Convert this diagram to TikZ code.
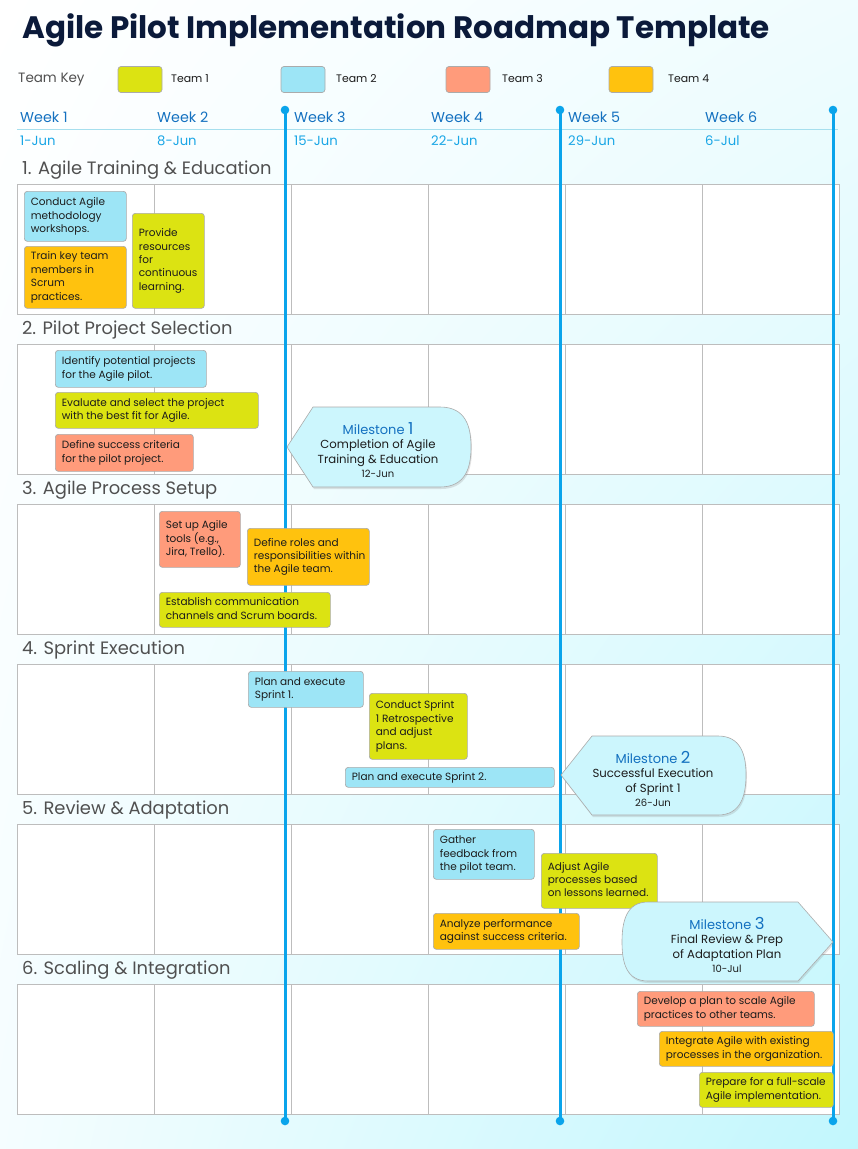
\documentclass[tikz,border=0pt]{standalone}
\usepackage{fontspec}
\setmainfont{Poppins}
\usetikzlibrary{shadows,shadings}
\definecolor{tone}{HTML}{DCE312}
\definecolor{ttwo}{HTML}{9DE5F6}
\definecolor{tthree}{HTML}{FF9B7B}
\definecolor{tfour}{HTML}{FFC20E}
\definecolor{mscyan}{HTML}{CCF6FD}
\definecolor{vline}{HTML}{0AA4EB}
\definecolor{wkblue}{HTML}{1471C0}
\definecolor{dtblue}{HTML}{19A6E6}
\definecolor{navy}{HTML}{0B1A3A}
\definecolor{gridgray}{HTML}{BDBDBD}
\definecolor{boxedge}{HTML}{ABABAB}
\definecolor{txtdark}{HTML}{1C1C1C}
\definecolor{secgray}{HTML}{505050}
\definecolor{hdrline}{HTML}{A6DFEE}
\tikzset{
  taskst/.style={draw=boxedge, line width=0.7pt, rounded corners=3pt, anchor=north west,
    inner xsep=6.5pt, inner ysep=1pt, text=txtdark, font=\fontsize{10.5}{13.4}\selectfont},
  swatch/.style={draw=boxedge, line width=0.7pt, rounded corners=3pt, minimum width=44pt, minimum height=26pt, inner sep=0pt},
  keylbl/.style={anchor=west, font=\fontsize{10.9}{12}\selectfont, text=txtdark},
  wklbl/.style={anchor=west, font=\fontsize{14.3}{16}\selectfont, text=wkblue},
  dtlbl/.style={anchor=west, font=\fontsize{13.2}{15}\selectfont, text=dtblue},
  seclbl/.style={anchor=west, font=\fontsize{17.9}{21}\selectfont, text=secgray},
  msshape/.style={draw=boxedge, line width=0.6pt, fill=mscyan, drop shadow={shadow xshift=1pt, shadow yshift=-2pt, opacity=0.22}},
  mstext/.style={align=center, text=txtdark, font=\fontsize{11.7}{14.3}\selectfont, inner sep=0pt},
  vmile/.style={draw=vline, line width=3pt},
  vdot/.style={fill=vline},
}
\newcommand\taskbox[7]{%
  \pgfmathsetmacro\tbw{#5-#3}\pgfmathsetmacro\tbh{#6-#4}\pgfmathsetmacro\tbt{#5-#3-13}%
  \node[taskst, fill=#2, minimum width=\tbw pt, minimum height=\tbh pt] (#1) at (#3,#4)
    {\makebox[\tbt pt][l]{\begin{tabular}{@{}l@{}}#7\end{tabular}}};}
\begin{document}
\begin{tikzpicture}[x=1pt, y=-1pt]
\useasboundingbox (0,0) rectangle (858,1149);
% background
\shade[upper left=white, upper right=white!70!mscyan, lower left=white!80!mscyan, lower right=mscyan!95!cyan] (0,0) rectangle (858,1149);
% title
\node[anchor=west, font=\fontsize{31}{36}\selectfont\bfseries, text=navy, inner sep=0pt] (title) at (22,30) {Agile Pilot Implementation Roadmap Template};
% team key
\node[anchor=west, font=\fontsize{13.5}{15}\selectfont, text=secgray, inner sep=0pt] (tk) at (18,80) {Team Key};
\node[swatch, fill=tone] (k1) at (140,79.5) {};
\node[keylbl, inner sep=0pt] (l1) at (171,79) {Team 1};
\node[swatch, fill=ttwo] (k2) at (303,79.5) {};
\node[keylbl, inner sep=0pt] (l2) at (336,79) {Team 2};
\node[swatch, fill=tthree] (k3) at (468,79.5) {};
\node[keylbl, inner sep=0pt] (l3) at (502,79) {Team 3};
\node[swatch, fill=tfour] (k4) at (631,79.5) {};
\node[keylbl, inner sep=0pt] (l4) at (668,79) {Team 4};
% week header
\draw[hdrline, line width=1pt] (17,129) -- (838,129);
\foreach \i/\d in {1/1-Jun,2/8-Jun,3/15-Jun,4/22-Jun,5/29-Jun,6/6-Jul}{
  \node[wklbl, inner sep=0pt] (w\i) at ({20+137*(\i-1)},117) {Week \i};
  \node[dtlbl, inner sep=0pt] (d\i) at ({20+137*(\i-1)},141) {\d};
}
% rows
\foreach \k/\t in {0/1. Agile Training \& Education,1/2. Pilot Project Selection,2/3. Agile Process Setup,3/4. Sprint Execution,4/5. Review \& Adaptation,5/6. Scaling \& Integration}{
  \node[seclbl, inner sep=0pt] (s\k) at (22,{170+160*\k}) {\t};
  \draw[gridgray, line width=0.8pt, fill=white] (17,{184+160*\k}) rectangle (839,{314+160*\k});
  \foreach \c in {154,291,428,565,702}{
    \draw[gridgray, line width=0.8pt] (\c,{184+160*\k}) -- (\c,{314+160*\k});
  }
}
% milestone lines
\foreach \x in {285,560,833}{
  \draw[vmile] (\x,110) -- (\x,1121);
  \fill[vdot] (\x,110) circle (4.3pt);
  \fill[vdot] (\x,1121) circle (4.3pt);
}
% section 1
\taskbox{a1}{ttwo}{24}{191}{126}{241}{Conduct Agile\\methodology\\workshops.}
\taskbox{a2}{tfour}{24}{246}{126}{308}{Train key team\\members in\\Scrum\\practices.}
\taskbox{a3}{tone}{132}{213}{204}{308}{Provide\\resources\\for\\continuous\\learning.}
% section 2
\taskbox{b1}{ttwo}{55}{350}{206}{387}{Identify potential projects\\for the Agile pilot.}
\taskbox{b2}{tone}{55}{392}{258}{428}{Evaluate and select the project\\with the best fit for Agile.}
\taskbox{b3}{tthree}{55}{434}{193}{471}{Define success criteria\\for the pilot project.}
% section 3
\taskbox{c1}{tthree}{159}{511}{240}{567}{Set up Agile\\tools (e.g.,\\Jira, Trello).}
\taskbox{c2}{tfour}{247}{528}{369}{585}{Define roles and\\responsibilities within\\the Agile team.}
\taskbox{c3}{tone}{159}{592}{330}{627}{Establish communication\\channels and Scrum boards.}
% section 4
\taskbox{d1}{ttwo}{248}{671}{363}{707}{Plan and execute\\Sprint 1.}
\taskbox{d2}{tone}{369}{693}{467}{759}{Conduct Sprint\\1 Retrospective\\and adjust\\plans.}
\taskbox{d3}{ttwo}{345}{767}{554}{787}{Plan and execute Sprint 2.}
% section 5
\taskbox{e1}{ttwo}{433}{829}{534}{879}{Gather\\feedback from\\the pilot team.}
\taskbox{e2}{tone}{541}{853}{657}{908}{Adjust Agile\\processes based\\on lessons learned.}
\taskbox{e3}{tfour}{433}{913}{579}{949}{Analyze performance\\against success criteria.}
% section 6
\taskbox{f1}{tthree}{637}{991}{814}{1026}{Develop a plan to scale Agile\\practices to other teams.}
\taskbox{f2}{tfour}{659}{1031}{833}{1066}{Integrate Agile with existing\\processes in the organization.}
\taskbox{f3}{tone}{699}{1072}{833}{1107}{Prepare for a full-scale\\Agile implementation.}
% milestones
\path[msshape] (287,447) -- (313,407) -- (440,407) .. controls (466,407) and (471,427) .. (471,447) .. controls (471,467) and (466,487) .. (440,487) -- (313,487) -- cycle;
\node[mstext] (m1) at (378,450) {{\color{wkblue}\fontsize{13}{14.3}\selectfont Milestone \fontsize{16.5}{14.3}\selectfont 1}\\Completion of Agile\\Training \& Education\\{\fontsize{10}{12.5}\selectfont 12-Jun}};
\path[msshape] (561,775) -- (592,736) -- (718,736) .. controls (741,736) and (746,755) .. (746,775) .. controls (746,795) and (741,815) .. (718,815) -- (592,815) -- cycle;
\node[mstext] (m2) at (653,779) {{\color{wkblue}\fontsize{13}{14.3}\selectfont Milestone \fontsize{16.5}{14.3}\selectfont 2}\\Successful Execution\\of Sprint 1\\{\fontsize{10}{12.5}\selectfont 26-Jun}};
\path[msshape] (833,942) -- (798,902) -- (648,902) .. controls (626,902) and (622,922) .. (622,942) .. controls (622,962) and (626,981) .. (648,981) -- (798,981) -- cycle;
\node[mstext] (m3) at (727,945) {{\color{wkblue}\fontsize{13}{14.3}\selectfont Milestone \fontsize{16.5}{14.3}\selectfont 3}\\Final Review \& Prep\\of Adaptation Plan\\{\fontsize{10}{12.5}\selectfont 10-Jul}};
\end{tikzpicture}
\end{document}
